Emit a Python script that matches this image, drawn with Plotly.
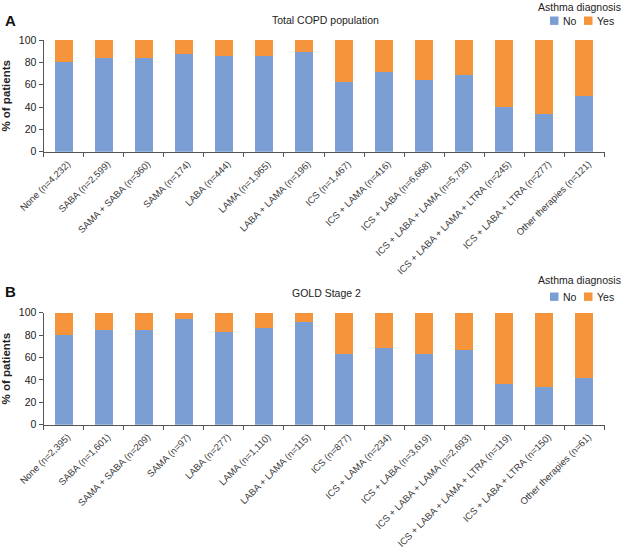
import plotly.graph_objects as go

# ---- data ----
cats_a = ["None (n=4,232)", "SABA (n=2,599)", "SAMA + SABA (n=360)", "SAMA (n=174)",
          "LABA (n=444)", "LAMA (n=1,965)", "LABA + LAMA (n=196)", "ICS (n=1,467)",
          "ICS + LAMA (n=416)", "ICS + LABA (n=6,668)", "ICS + LABA + LAMA (n=5,793)",
          "ICS + LABA + LAMA + LTRA (n=245)", "ICS + LABA + LTRA (n=277)",
          "Other therapies (n=121)"]
no_a = [80, 84, 83.5, 87.5, 85.5, 86, 89.5, 62.5, 71.5, 64, 68.5, 40, 34, 49.5]
yes_a = [20, 16, 16.5, 12.5, 14.5, 14, 10.5, 37.5, 28.5, 36, 31.5, 60, 66, 50.5]

cats_b = ["None (n=2,395)", "SABA (n=1,601)", "SAMA + SABA (n=209)", "SAMA (n=97)",
          "LABA (n=277)", "LAMA (n=1,110)", "LABA + LAMA (n=115)", "ICS (n=877)",
          "ICS + LAMA (n=234)", "ICS + LABA (n=3,619)", "ICS + LABA + LAMA (n=2,693)",
          "ICS + LABA + LAMA + LTRA (n=119)", "ICS + LABA + LTRA (n=150)",
          "Other therapies (n=61)"]
no_b = [80, 84.5, 84.5, 94, 83, 86.5, 91.5, 63, 68.5, 63, 67, 36.5, 34, 42]
yes_b = [20, 15.5, 15.5, 6, 17, 13.5, 8.5, 37, 31.5, 37, 33, 63.5, 66, 58]

y_ticks = [0, 20, 40, 60, 80, 100]
series_names = ["No", "Yes"]
legend_title = "Asthma diagnosis"

BLUE = "#7b9fd4"
ORANGE = "#f6943c"
COLORS = [BLUE, ORANGE]
FONT = "Liberation Sans, Arial, sans-serif"
W, H = 627, 559


def px_x(p):
    return p / W


def px_y(p):
    return 1 - p / H


fig = go.Figure()

for cats, no, yes, xa, ya in [(cats_a, no_a, yes_a, "x", "y"), (cats_b, no_b, yes_b, "x2", "y2")]:
    for name, vals, col in zip(series_names, [no, yes], COLORS):
        fig.add_trace(go.Bar(x=cats, y=vals, name=name,
                             marker=dict(color=col, line=dict(width=0)),
                             xaxis=xa, yaxis=ya, showlegend=False))

xdom = [px_x(43.5), px_x(604.5)]
ydom_a = [px_y(151.7), px_y(40)]
ydom_b = [px_y(424.7), px_y(312.7)]

xaxis_common = dict(
    type="category", showline=True, linecolor="#555", linewidth=1,
    ticks="outside", tickson="boundaries", ticklen=4, tickcolor="#555",
    tickangle=-45, tickfont=dict(size=9.5, color="#3a3a3a", family=FONT),
    ticklabelshift=4, ticklabelstandoff=2,
    showgrid=False, zeroline=False, automargin=False,
)
yaxis_common = dict(
    range=[0, 100], tickvals=y_ticks, showline=True, linecolor="#555", linewidth=1,
    ticks="outside", ticklen=4, tickcolor="#555",
    tickfont=dict(size=10.5, color="#222", family=FONT),
    showgrid=False, zeroline=False, automargin=False,
    title=dict(text="<b>% of patients</b>", font=dict(size=11.5, color="#222", family=FONT), standoff=6),
)

annotations = []
shapes = []


def add_legend(title_y, item_y):
    annotations.append(dict(text=legend_title, x=px_x(579.5), y=px_y(title_y), xref="paper", yref="paper",
                            xanchor="center", yanchor="middle", showarrow=False,
                            font=dict(size=10.5, color="#222", family=FONT)))
    for name, col, sq_x in zip(series_names, COLORS, [550, 584]):
        shapes.append(dict(type="rect", xref="paper", yref="paper",
                           x0=px_x(sq_x), x1=px_x(sq_x + 8.5),
                           y0=px_y(item_y + 4.2), y1=px_y(item_y - 4.2),
                           fillcolor=col, line=dict(width=0)))
        annotations.append(dict(text=name, x=px_x(sq_x + 10.5), y=px_y(item_y), xref="paper", yref="paper",
                                xanchor="left", yanchor="middle", showarrow=False,
                                font=dict(size=10.5, color="#222", family=FONT)))


add_legend(6.5, 20.7)
add_legend(280, 296.7)

annotations += [
    dict(text="<b>A</b>", x=px_x(3), y=px_y(20), xref="paper", yref="paper",
         xanchor="left", yanchor="middle", showarrow=False,
         font=dict(size=15, color="#111", family=FONT)),
    dict(text="Total COPD population", x=px_x(325), y=px_y(20), xref="paper", yref="paper",
         xanchor="center", yanchor="middle", showarrow=False,
         font=dict(size=10.5, color="#222", family=FONT)),
    dict(text="<b>B</b>", x=px_x(3), y=px_y(291), xref="paper", yref="paper",
         xanchor="left", yanchor="middle", showarrow=False,
         font=dict(size=15, color="#111", family=FONT)),
    dict(text="GOLD Stage 2", x=px_x(326), y=px_y(293), xref="paper", yref="paper",
         xanchor="center", yanchor="middle", showarrow=False,
         font=dict(size=10.5, color="#222", family=FONT)),
]

fig.update_layout(
    width=W, height=H,
    margin=dict(l=0, r=0, t=0, b=0, autoexpand=False),
    paper_bgcolor="white", plot_bgcolor="white",
    barmode="stack", bargap=0.55,
    font=dict(family=FONT, color="#222"),
    showlegend=False,
    xaxis=dict(domain=xdom, anchor="y", **xaxis_common),
    yaxis=dict(domain=ydom_a, anchor="x", **yaxis_common),
    xaxis2=dict(domain=xdom, anchor="y2", **xaxis_common),
    yaxis2=dict(domain=ydom_b, anchor="x2", **yaxis_common),
    annotations=annotations,
    shapes=shapes,
)

fig.write_html("out.html")
